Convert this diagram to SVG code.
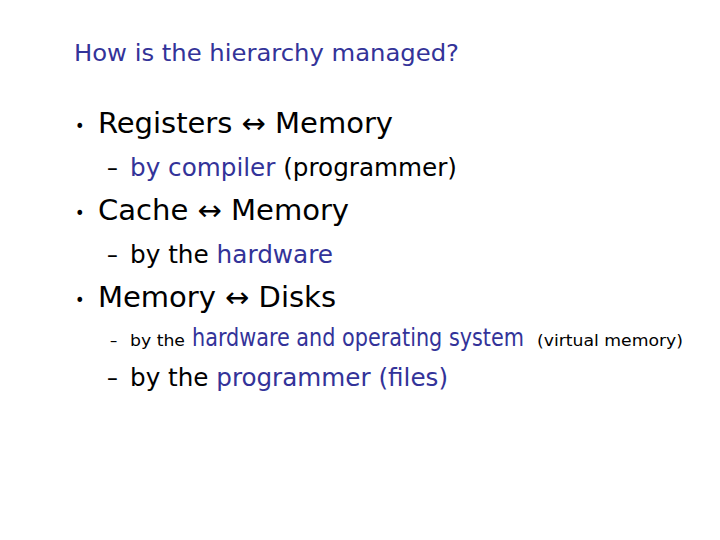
<svg xmlns="http://www.w3.org/2000/svg" width="720" height="540" viewBox="0 0 720 540">
<style>
text{font-family:"DejaVu Sans Condensed","DejaVu Sans","Open Sans",sans-serif;fill:#000}
.b{fill:#333399}
.t{font-size:23px}
.l1{font-size:28px}
.l2{font-size:24px}
.s{font-size:16px}
.d{font-size:18px}
</style>
<rect width="720" height="540" fill="#fff"/>
<g id="title"><text class="t b" x="74" y="61" textLength="385" lengthAdjust="spacingAndGlyphs">How is the hierarchy managed?</text></g>
<g id="item1">
<text class="d" x="75" y="132">•</text>
<text class="l1" x="98" y="133" textLength="295" lengthAdjust="spacingAndGlyphs">Registers ↔ Memory</text>
<text class="l2" x="107" y="176">–</text>
<text class="l2" x="130" y="176" textLength="327" lengthAdjust="spacingAndGlyphs"><tspan class="b">by compiler</tspan> (programmer)</text>
</g>
<g id="item2">
<text class="d" x="75" y="219">•</text>
<text class="l1" x="98" y="220" textLength="251" lengthAdjust="spacingAndGlyphs">Cache ↔ Memory</text>
<text class="l2" x="107" y="263">–</text>
<text class="l2" x="130" y="263" textLength="203" lengthAdjust="spacingAndGlyphs">by the <tspan class="b">hardware</tspan></text>
</g>
<g id="item3">
<text class="d" x="75" y="306">•</text>
<text class="l1" x="98" y="307" textLength="238" lengthAdjust="spacingAndGlyphs">Memory ↔ Disks</text>
<text class="s" x="110" y="346">–</text>
<text class="s" x="130" y="346" textLength="55" lengthAdjust="spacingAndGlyphs">by the</text>
<text class="l2 b" x="192" y="346" textLength="332" lengthAdjust="spacingAndGlyphs">hardware and operating system</text>
<text class="s" x="537" y="346" textLength="146" lengthAdjust="spacingAndGlyphs">(virtual memory)</text>
<text class="l2" x="107" y="386">–</text>
<text class="l2" x="130" y="386" textLength="318" lengthAdjust="spacingAndGlyphs">by the <tspan class="b">programmer (files)</tspan></text>
</g>
</svg>
